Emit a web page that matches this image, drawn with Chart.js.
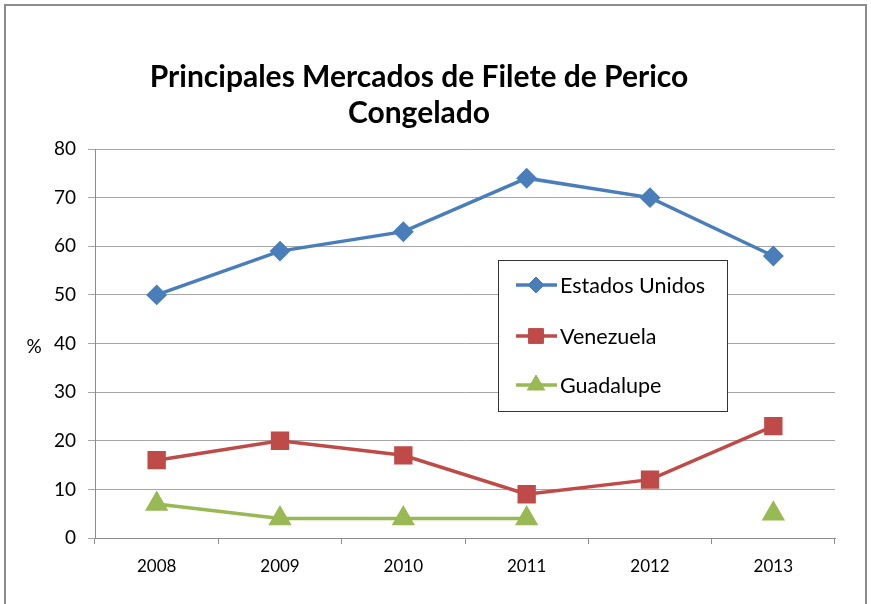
<!DOCTYPE html>
<html>
<head>
<meta charset="utf-8">
<script src="https://cdn.jsdelivr.net/npm/chart.js@4.4.0/dist/chart.umd.min.js"></script>
<style>
html, body { margin: 0; padding: 0; background: #fff; }
</style>
</head>
<body>
<canvas id="lineChart" width="871" height="604"></canvas>
<script>
// Data ----------
var years = ["2008", "2009", "2010", "2011", "2012", "2013"];
var estadosUnidos = [50, 59, 63, 74, 70, 58];
var venezuela = [16, 20, 17, 9, 12, 23];
var guadalupe = [7, 4, 4, 4, null, 5];
var seriesNames = ["Estados Unidos", "Venezuela", "Guadalupe"];
var yTicks = [0, 10, 20, 30, 40, 50, 60, 70, 80];

var blue = "#4A7EBB";
var red = "#BE4B48";
var green = "#98B954";
var fontName = "Lato, 'Open Sans', sans-serif";

// Outer border, "%" label and the boxed legend inside the plot ----------
var extras = {
    id: "extras",
    beforeDraw: function (chart) {
        var ctx = chart.ctx;
        ctx.save();
        ctx.fillStyle = "#fff";
        ctx.fillRect(0, 0, chart.width, chart.height);
        ctx.strokeStyle = "#8c8c8c";
        ctx.lineWidth = 2;
        ctx.strokeRect(5, 5, 861, 700);
        ctx.restore();
    },
    afterDraw: function (chart) {
        var ctx = chart.ctx;
        var y = chart.scales.y;
        ctx.save();
        ctx.fillStyle = "#000";
        ctx.font = "19px " + fontName;
        ctx.textAlign = "center";
        ctx.textBaseline = "middle";
        ctx.fillText("%", 34, y.getPixelForValue(40) + 3);

        // legend box
        var bx = 498.5, by = 260.5, bw = 229, bh = 151;
        ctx.fillStyle = "#fff";
        ctx.fillRect(bx, by, bw, bh);
        ctx.strokeStyle = "#333";
        ctx.lineWidth = 1;
        ctx.strokeRect(bx, by, bw, bh);

        var rows = [285, 336, 385];
        chart.data.datasets.forEach(function (ds, i) {
            var ry = rows[i];
            ctx.strokeStyle = ds.borderColor;
            ctx.lineWidth = 3.5;
            ctx.beginPath();
            ctx.moveTo(516, ry);
            ctx.lineTo(557, ry);
            ctx.stroke();
            ctx.fillStyle = ds.backgroundColor;
            ctx.strokeStyle = ds.backgroundColor;
            ctx.lineWidth = 1;
            Chart.helpers.drawPoint(ctx, {
                pointStyle: ds.pointStyle,
                radius: ds.pointRadius,
                borderWidth: 1
            }, 536, ry);
            ctx.fillStyle = "#000";
            ctx.font = "21.5px " + fontName;
            ctx.textAlign = "left";
            ctx.textBaseline = "middle";
            ctx.fillText(ds.label, 560, ry + 1);
        });
        ctx.restore();
    }
};

var ctx = document.getElementById("lineChart").getContext("2d");

var myLineChart = new Chart(ctx, {
    type: "line",
    data: {
        labels: years,
        datasets: [{
            label: seriesNames[0],
            data: estadosUnidos,
            borderColor: blue,
            backgroundColor: blue,
            borderWidth: 3.5,
            pointStyle: "rectRot",
            pointRadius: 8,
            pointHoverRadius: 8
        }, {
            label: seriesNames[1],
            data: venezuela,
            borderColor: red,
            backgroundColor: red,
            borderWidth: 3.5,
            pointStyle: "rect",
            pointRadius: 10.5,
            pointHoverRadius: 10.5
        }, {
            label: seriesNames[2],
            data: guadalupe,
            borderColor: green,
            backgroundColor: green,
            borderWidth: 3.5,
            pointStyle: "triangle",
            pointRadius: 10,
            pointHoverRadius: 10,
            spanGaps: false
        }]
    },
    options: {
        responsive: false,
        animation: false,
        devicePixelRatio: 1,
        layout: {
            padding: { left: 3, right: 36, top: 40, bottom: 0 }
        },
        plugins: {
            legend: { display: false },
            tooltip: { enabled: false },
            title: {
                display: true,
                text: ["Principales Mercados de Filete de Perico", "Congelado"],
                color: "#000",
                font: { family: fontName, size: 30, weight: "bold", lineHeight: 1.2 },
                padding: { top: 19, bottom: 18 }
            }
        },
        scales: {
            x: {
                offset: true,
                grid: {
                    offset: true,
                    drawOnChartArea: false,
                    drawTicks: true,
                    tickLength: 6,
                    color: "#8c8c8c"
                },
                border: { color: "#8c8c8c", width: 1 },
                ticks: {
                    color: "#000",
                    padding: 12,
                    font: { family: fontName, size: 17 }
                },
                afterFit: function (scale) { scale.height = 66; }
            },
            y: {
                min: 0,
                max: 80,
                afterBuildTicks: function (scale) {
                    scale.ticks = yTicks.map(function (v) { return { value: v }; });
                },
                grid: {
                    color: "#a6a6a6",
                    tickLength: 7
                },
                border: { color: "#8c8c8c", width: 1 },
                ticks: {
                    color: "#000",
                    padding: 12,
                    font: { family: fontName, size: 19 }
                },
                afterFit: function (scale) { scale.width = 92; }
            }
        }
    },
    plugins: [extras]
});
</script>
</body>
</html>
